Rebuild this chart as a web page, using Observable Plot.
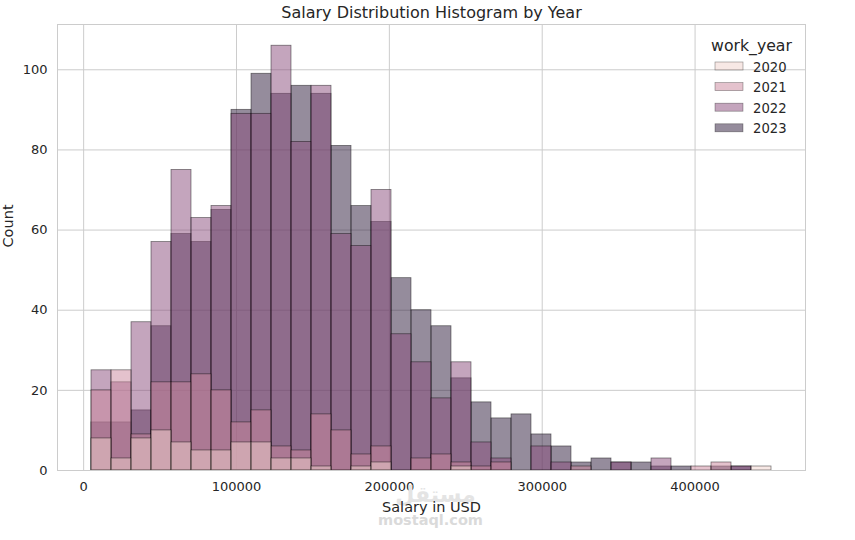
<!DOCTYPE html>
<html><head><meta charset="utf-8">
<script src="https://cdn.jsdelivr.net/npm/d3@7"></script>
<script src="https://cdn.jsdelivr.net/npm/@observablehq/plot@0.6"></script>
<style>body{margin:0;background:#fff} #chart{width:855px;height:540px}</style>
</head><body><div id="chart"></div>
<script>
// ---- data ----
const years = [2020, 2021, 2022, 2023];
const yearColors = ["#f0d2cc", "#c9859b", "#894b7b", "#2b1939"];
const salaryMin = 5132, salaryMax = 450000, binCount = 34;
const counts2020 = [8, 3, 8, 10, 7, 5, 5, 7, 7, 3, 3, 1, 0, 1, 2, 0, 0, 0, 1, 0, 0, 0, 0, 0, 0, 0, 0, 0, 0, 0, 0, 0, 0, 1];
const counts2021 = [20, 25, 9, 22, 22, 24, 20, 12, 15, 6, 5, 14, 10, 4, 6, 0, 3, 4, 2, 1, 2, 0, 0, 0, 1, 0, 0, 0, 0, 0, 1, 2, 0, 0];
const counts2022 = [25, 22, 37, 57, 75, 63, 66, 89, 89, 106, 82, 96, 59, 56, 70, 34, 27, 18, 27, 7, 3, 0, 6, 2, 0, 0, 2, 0, 3, 0, 0, 0, 1, 0];
const counts2023 = [12, 12, 15, 36, 59, 57, 65, 90, 99, 94, 96, 94, 81, 66, 62, 48, 40, 36, 23, 17, 13, 14, 9, 6, 2, 3, 2, 2, 1, 1, 0, 1, 1, 0];
const xTicks = [0, 100000, 200000, 300000, 400000];
const yTicks = [0, 20, 40, 60, 80, 100];
const titleText = "Salary Distribution Histogram by Year";
const xLabel = "Salary in USD";
const yLabel = "Count";
const legendTitle = "work_year";
const watermarkLogo = "مستقل";
const watermarkSite = "mostaql.com";

// ---- build tables ----
const seriesByYear = {2020: counts2020, 2021: counts2021, 2022: counts2022, 2023: counts2023};
const binWidth = (salaryMax - salaryMin) / binCount;
function binsFor(year) {
  return seriesByYear[year]
    .map((c, i) => ({x1: salaryMin + i * binWidth, x2: salaryMin + (i + 1) * binWidth, count: c, year}))
    .filter(d => d.count > 0);
}
const drawOrder = [2023, 2022, 2021, 2020];
const pad = (salaryMax - salaryMin) * 0.05;
const yMax = d3.max(years.flatMap(y => seriesByYear[y])) * 1.05;
const colorOf = yr => yearColors[years.indexOf(yr)];
const font = "'DejaVu Sans', sans-serif";

const plot = Plot.plot({
  width: 855, height: 540,
  marginLeft: 57, marginRight: 50, marginTop: 24, marginBottom: 70,
  style: {fontFamily: font, fontSize: "13px", color: "#262626", background: "#fff"},
  x: {domain: [salaryMin - pad, salaryMax + pad]},
  y: {domain: [0, yMax]},
  marks: [
    Plot.gridX(xTicks, {stroke: "#cccccc", strokeOpacity: 1, strokeWidth: 1}),
    Plot.gridY(yTicks, {stroke: "#cccccc", strokeOpacity: 1, strokeWidth: 1}),
    ...drawOrder.map(yr => Plot.rectY(binsFor(yr), {
      x1: "x1", x2: "x2", y: "count",
      fill: colorOf(yr), fillOpacity: 0.5,
      stroke: "#000", strokeOpacity: 0.5, strokeWidth: 0.8
    })),
    Plot.frame({stroke: "#cccccc"}),
    Plot.axisX(xTicks, {tickSize: 0, tickPadding: 11, fontSize: 13, tickFormat: d => String(d), label: null}),
    Plot.axisY(yTicks, {tickSize: 0, tickPadding: 10, fontSize: 13, label: null}),
    Plot.text([watermarkLogo], {frameAnchor: "bottom", lineAnchor: "middle", dy: 24, dx: 4, fontSize: 22, fontWeight: "bold", fill: "#e4e4e4"}),
    Plot.text([watermarkSite], {frameAnchor: "bottom", lineAnchor: "middle", dy: 50, dx: -1, fontSize: 14.5, fontWeight: "bold", fill: "#dadada"}),
    Plot.text([titleText], {frameAnchor: "top", lineAnchor: "middle", dy: -12, fontSize: 16, fill: "#262626"}),
    Plot.text([yLabel], {frameAnchor: "left", lineAnchor: "middle", dx: -49, rotate: -90, fontSize: 14.5, fill: "#262626"}),
    Plot.text([xLabel], {frameAnchor: "bottom", lineAnchor: "middle", dy: 37, fontSize: 14.5, fill: "#262626"})
  ]
});
document.getElementById("chart").appendChild(plot);

// ---- legend (seaborn-style, upper right inside the axes) ----
const svg = d3.select(plot);
const lg = svg.append("g").attr("font-family", font).attr("fill", "#262626");
lg.append("text").attr("x", 751.5).attr("y", 45).attr("text-anchor", "middle")
  .attr("dominant-baseline", "central").attr("font-size", 15.7).text(legendTitle);
years.forEach((yr, i) => {
  const cy = 66 + 20.6 * i;
  lg.append("rect").attr("x", 715).attr("y", cy - 4).attr("width", 28).attr("height", 8)
    .attr("fill", colorOf(yr)).attr("fill-opacity", 0.5)
    .attr("stroke", "#000").attr("stroke-opacity", 0.4).attr("stroke-width", 0.7);
  lg.append("text").attr("x", 753).attr("y", cy + 1).attr("text-anchor", "start")
    .attr("dominant-baseline", "central").attr("font-size", 13.2).text(String(yr));
});
</script>
</body></html>
